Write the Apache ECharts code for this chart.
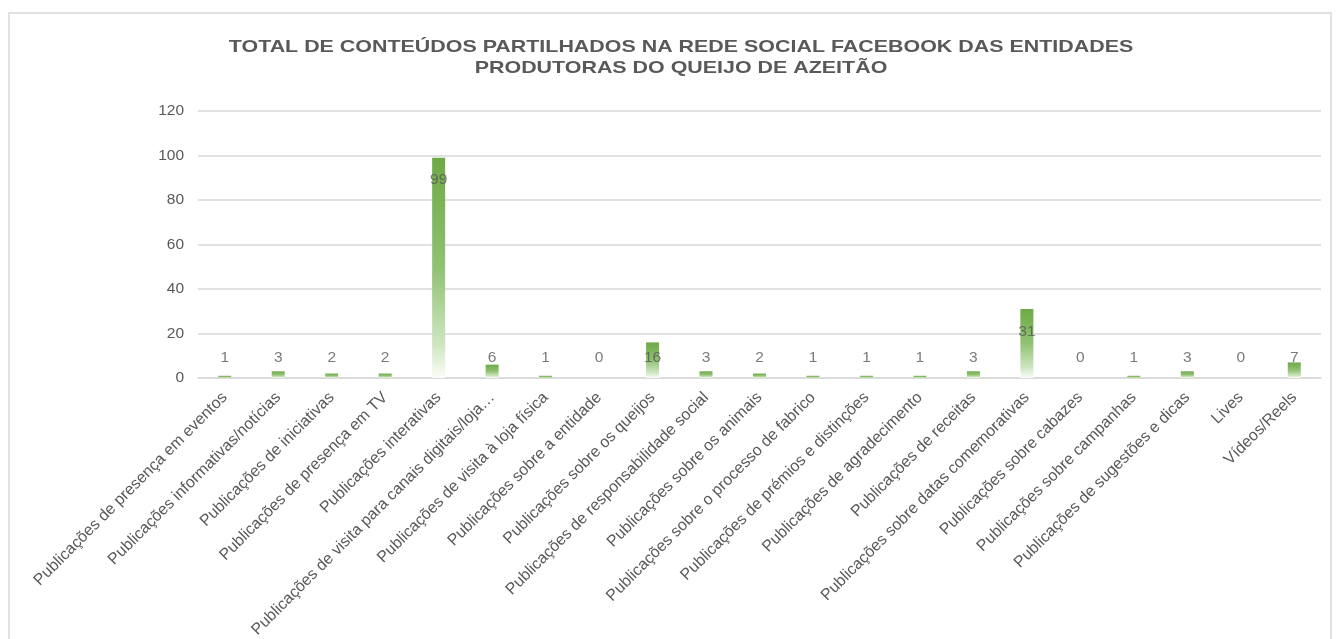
<!DOCTYPE html>
<html>
<head>
<meta charset="utf-8">
<script src="https://cdn.jsdelivr.net/npm/echarts@6/dist/echarts.min.js"></script>
<style>
html,body{margin:0;padding:0;background:#fff;}
#chart{width:1339px;height:639px;}
</style>
</head>
<body>
<div id="chart"></div>
<script>
const titleText = 'TOTAL DE CONTEÚDOS PARTILHADOS NA REDE SOCIAL FACEBOOK DAS ENTIDADES\nPRODUTORAS DO QUEIJO DE AZEITÃO';
const categories = [
  'Publicações de presença em eventos',
  'Publicações informativas/notícias',
  'Publicações de iniciativas',
  'Publicações de presença em TV',
  'Publicações interativas',
  'Publicações de visita para canais digitais/loja…',
  'Publicações de visita à loja física',
  'Publicações sobre a entidade',
  'Publicações sobre os queijos',
  'Publicações de responsabilidade social',
  'Publicações sobre os animais',
  'Publicações sobre o processo de fabrico',
  'Publicações de prémios e distinções',
  'Publicações de agradecimento',
  'Publicações de receitas',
  'Publicações sobre datas comemorativas',
  'Publicações sobre cabazes',
  'Publicações sobre campanhas',
  'Publicações de sugestões e dicas',
  'Lives',
  'Vídeos/Reels'
];
const values = [1, 3, 2, 2, 99, 6, 1, 0, 16, 3, 2, 1, 1, 1, 3, 31, 0, 1, 3, 0, 7];
const yTicks = [0, 20, 40, 60, 80, 100, 120];

// label anchor: inside the bar end for tall bars, floor for short ones (Excel style)
const labelAnchors = values.map(v => ({ value: Math.max(v - 10, 9), raw: v }));

const FONT = "'Liberation Sans', Arial, sans-serif";
const TXT = '#595959';

const chart = echarts.init(document.getElementById('chart'), null, { renderer: 'canvas' });
chart.setOption({
  backgroundColor: '#ffffff',
  animation: false,
  graphic: [{
    type: 'rect',
    shape: { x: 9, y: 13, width: 1322, height: 640 },
    style: { fill: 'none', stroke: '#d9d9d9', lineWidth: 1.5 },
    silent: true
  }, {
    type: 'text',
    x: 681,
    y: 37,
    scaleX: 1.26,
    silent: true,
    style: {
      text: titleText,
      align: 'center',
      verticalAlign: 'top',
      fontFamily: FONT,
      fontSize: 17,
      fontWeight: 'bold',
      lineHeight: 21,
      fill: TXT
    }
  }],
  grid: { left: 198, right: 18, top: 111, bottom: 261, containLabel: false, outerBoundsMode: 'none' },
  xAxis: {
    type: 'category',
    data: categories,
    axisLine: { lineStyle: { color: '#d9d9d9', width: 1.5 } },
    axisTick: { show: false },
    axisLabel: { interval: 0, rotate: 45, margin: 17, fontFamily: FONT, fontSize: 16, color: TXT }
  },
  yAxis: {
    type: 'value',
    min: yTicks[0],
    max: yTicks[yTicks.length - 1],
    interval: 20,
    axisLine: { show: false },
    axisTick: { show: false },
    splitLine: { lineStyle: { color: '#d9d9d9', width: 1.5 } },
    axisLabel: { margin: 14, fontFamily: FONT, fontSize: 15.5, color: TXT }
  },
  series: [{
    type: 'bar',
    data: values,
    barWidth: 13,
    itemStyle: {
      color: new echarts.graphic.LinearGradient(0, 0, 0, 1, [
        { offset: 0, color: '#6ea946' },
        { offset: 0.5, color: '#90c273' },
        { offset: 0.85, color: '#cfe6c1' },
        { offset: 1, color: '#fbfdf9' }
      ])
    }
  }, {
    type: 'scatter',
    data: labelAnchors,
    symbolSize: 1,
    itemStyle: { color: 'rgba(0,0,0,0)' },
    silent: true,
    label: {
      show: true,
      position: 'inside',
      formatter: p => String(p.data.raw),
      fontFamily: FONT,
      fontSize: 15.5,
      color: TXT
    }
  }]
});
</script>
</body>
</html>
